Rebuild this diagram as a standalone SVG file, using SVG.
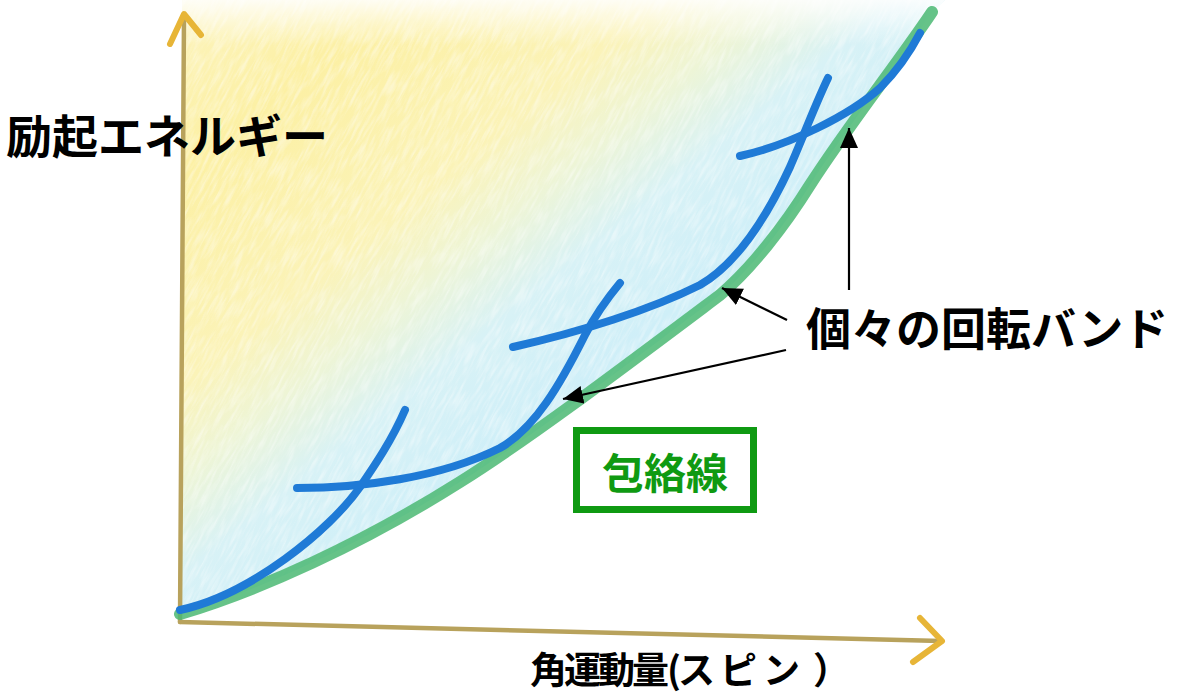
<svg xmlns="http://www.w3.org/2000/svg" width="1179" height="699" viewBox="0 0 1179 699">
  <style>
    .lbl { font-family: "Noto Sans CJK JP", "Noto Sans", sans-serif; font-weight: bold; fill: #000; }
    .grn { font-family: "Noto Sans CJK JP", "Noto Sans", sans-serif; font-weight: bold; fill: #0f9a12; }
    .band { fill: none; stroke: #1f7ad6; stroke-width: 8; stroke-linecap: round; stroke-linejoin: round; }
    .env { fill: none; stroke: #4bb873; stroke-width: 12; stroke-linecap: round; opacity: 0.85; }
    .axis { fill: none; stroke: #b8a25c; stroke-width: 4.5; stroke-linecap: round; }
    .axhead { fill: none; stroke: #e7b537; stroke-width: 6; stroke-linecap: round; stroke-linejoin: round; }
    .conn { fill: none; stroke: #000; stroke-width: 2.2; }
  </style>
  <defs>
    <linearGradient id="wash" gradientUnits="userSpaceOnUse" x1="600" y1="368" x2="256" y2="-62">
      <stop offset="0" stop-color="#cfeff8"/>
      <stop offset="0.18" stop-color="#d8f2f6"/>
      <stop offset="0.32" stop-color="#eef5d6"/>
      <stop offset="0.45" stop-color="#fbf3b8"/>
      <stop offset="0.75" stop-color="#fcf0a4"/>
      <stop offset="1" stop-color="#fcf4bf"/>
    </linearGradient>
    <linearGradient id="topfade" x1="0" y1="0" x2="0" y2="1">
      <stop offset="0" stop-color="#ffffff" stop-opacity="0.85"/>
      <stop offset="1" stop-color="#ffffff" stop-opacity="0"/>
    </linearGradient>
    <clipPath id="region">
      <path d="M182,0 L182,618 L180,614 C260,590 360,545 460,482 C530,438 620,370 720,295 C752,268 785,225 810,185 C845,130 900,60 932,12 L945,0 Z"/>
    </clipPath>
    <filter id="pencil" filterUnits="userSpaceOnUse" x="-400" y="-400" width="2000" height="1600">
      <feTurbulence type="fractalNoise" baseFrequency="0.35 0.04" numOctaves="3" seed="11"/>
      <feColorMatrix type="matrix" values="0 0 0 0 1  0 0 0 0 1  0 0 0 0 1  2.4 0 0 0 -0.95"/>
    </filter>
    <marker id="ah" markerUnits="userSpaceOnUse" markerWidth="22" markerHeight="20" refX="20" refY="9" orient="auto">
      <path d="M0,0 L20,9 L0,18 Z" fill="#000"/>
    </marker>
  </defs>

  <rect width="1179" height="699" fill="#ffffff"/>

  <g id="background" clip-path="url(#region)">
    <rect x="150" y="0" width="820" height="640" fill="url(#wash)"/>
    <g transform="rotate(28 550 320)">
      <rect x="-100" y="-300" width="1300" height="1300" filter="url(#pencil)" opacity="0.4"/>
    </g>
    <rect x="150" y="0" width="820" height="45" fill="url(#topfade)"/>
  </g>

  <g id="axes">
    <path class="axis" d="M180,622 L184,16"/>
    <path class="axis" d="M180,622 L941,641"/>
    <path class="axhead" d="M170,44 L184,14 L201,35"/>
    <path class="axhead" d="M920,618 L942,641 L913,662"/>
  </g>

  <g id="envelope">
    <path class="env" d="M180,614 C260,590 360,545 460,482 C530,438 620,370 720,295 C752,268 785,225 810,185 C845,130 900,60 932,12"/>
  </g>

  <g id="bands">
    <path id="band1" class="band" d="M180,610 C250,595 330,530 360,487 C375,465 392,440 405,410"/>
    <path id="band2" class="band" d="M297,488 C360,488 440,478 500,448 C535,428 560,385 585,335 C598,310 610,295 620,283"/>
    <path id="band3" class="band" d="M513,347 C580,332 650,310 700,285 C740,262 770,210 790,167 C802,140 815,105 828,78"/>
    <path id="band4" class="band" d="M740,156 C790,145 850,115 880,88 C898,70 910,52 920,33"/>
  </g>

  <g id="connectors">
    <line class="conn" x1="787" y1="320" x2="722" y2="288" marker-end="url(#ah)"/>
    <line class="conn" x1="786" y1="350" x2="563" y2="399" marker-end="url(#ah)"/>
    <line class="conn" x1="849" y1="290" x2="849" y2="128" marker-end="url(#ah)"/>
  </g>

  <g id="label-energy">
    <text class="lbl" x="6" y="153" font-size="46">励起エネルギー</text>
  </g>
  <g id="label-bands">
    <text class="lbl" x="806" y="346" font-size="45">個々の回転バンド</text>
  </g>
  <g id="label-spin">
    <text class="lbl" font-size="37" y="684" x="530 564 598 632 667 678 720 763 813">角運動量(スピン）</text>
  </g>
  <g id="label-envelope">
    <rect x="576.5" y="430.5" width="177" height="79" fill="#ffffff" stroke="#0f9a12" stroke-width="7"/>
    <text class="grn" x="602" y="489" font-size="42">包絡線</text>
  </g>
</svg>
